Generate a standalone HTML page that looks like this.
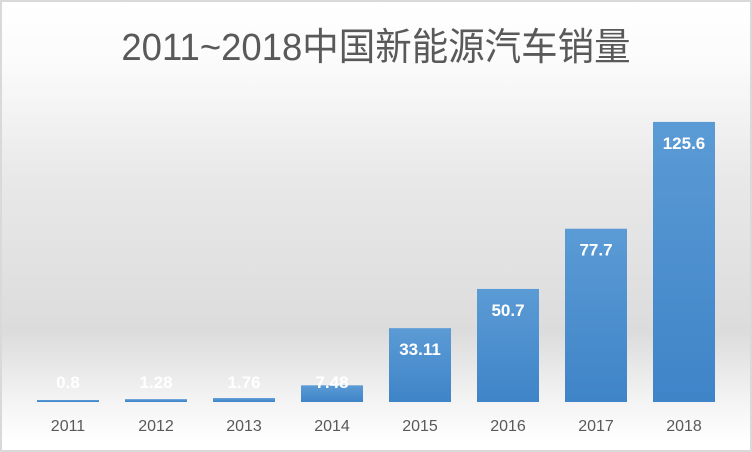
<!DOCTYPE html>
<html><head><meta charset="utf-8"><style>
body{margin:0;width:752px;height:452px;overflow:hidden;}
#c{position:relative;width:748px;height:448px;border:2px solid #d9d9d9;background:linear-gradient(#ffffff 0px,#fbfbfb 60px,#e8e8e8 180px,#dcdcdc 330px,#f4f4f4 400px,#ffffff 440px);}
#t{position:absolute;left:0;width:748px;top:14px;text-align:center;font:38px "Liberation Sans","Noto Sans CJK SC",sans-serif;color:#595959;transform:scaleX(0.96);}
svg{position:absolute;left:0;top:0;}
</style></head><body>
<div id="c">
<div id="t">2011~2018中国新能源汽车销量</div>
<svg id="s" width="748" height="448">
<defs><linearGradient id="g" x1="0" y1="0" x2="0" y2="1"><stop offset="0" stop-color="#5b9bd5"/><stop offset="1" stop-color="#3f84c8"/></linearGradient></defs>
</svg>
</div>
<script>
const categories=["2011","2012","2013","2014","2015","2016","2017","2018"];
const values=[0.8,1.28,1.76,7.48,33.11,50.7,77.7,125.6];
const labels=["0.8","1.28","1.76","7.48","33.11","50.7","77.7","125.6"];
const s=document.getElementById('s');const NS='http://www.w3.org/2000/svg';
const base=400, scale=2.23, x0=66, step=88, bw=62;
const y=v=>base-v*scale, x=i=>x0+i*step;
categories.forEach((c,i)=>{
 const h=Math.max(values[i]*scale,2);
 const r=document.createElementNS(NS,'rect');
 
 
 r.setAttribute('x',x(i)-bw/2);r.setAttribute('y',base-h);r.setAttribute('width',bw);r.setAttribute('height',h);r.setAttribute('fill','url(#g)');s.appendChild(r);
 const t=document.createElementNS(NS,'text');
 
 
 const ty=values[i]>20?y(values[i])+27:base-14;
 t.setAttribute('x',x(i));t.setAttribute('y',ty);t.setAttribute('text-anchor','middle');t.setAttribute('fill','#fff');t.setAttribute('font-size','17');t.setAttribute('font-weight','bold');t.setAttribute('font-family','Liberation Sans, sans-serif');t.textContent=labels[i];s.appendChild(t);
 const a=document.createElementNS(NS,'text');
 
 
 a.setAttribute('x',x(i));a.setAttribute('y',429);a.setAttribute('text-anchor','middle');a.setAttribute('fill','#595959');a.setAttribute('font-size','16');a.setAttribute('font-family','Liberation Sans, sans-serif');a.textContent=c;s.appendChild(a);
});
</script>
</body></html>
